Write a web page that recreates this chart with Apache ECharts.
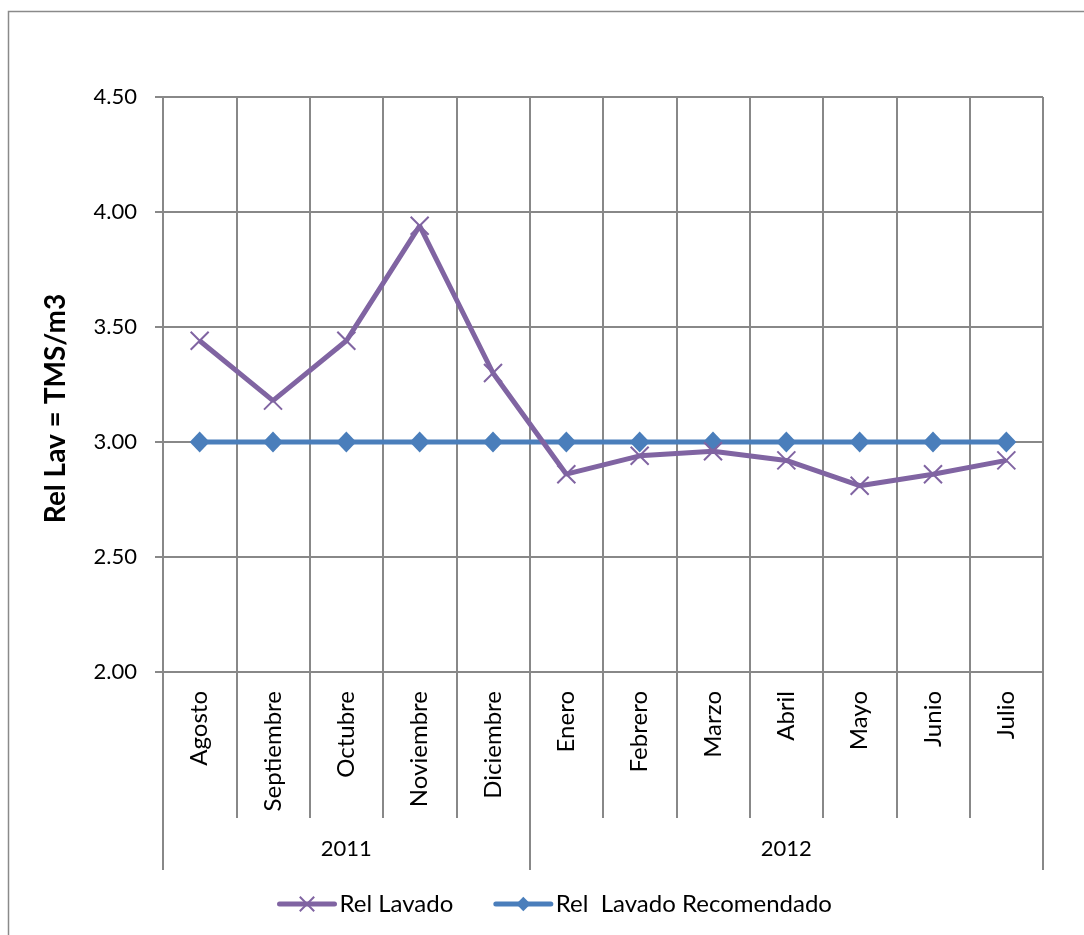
<!DOCTYPE html>
<html>
<head>
<meta charset="utf-8">
<script src="https://cdn.jsdelivr.net/npm/echarts@6/dist/echarts.min.js"></script>
<style>
html,body{margin:0;padding:0;background:#fff;}
#chart{width:1084px;height:935px;}
</style>
</head>
<body>
<div id="chart"></div>
<script>
const months = ['Agosto','Septiembre','Octubre','Noviembre','Diciembre','Enero','Febrero','Marzo','Abril','Mayo','Junio','Julio'];
const monthYears = ['2011','2011','2011','2011','2011','2012','2012','2012','2012','2012','2012','2012'];
const relLavado = [3.44, 3.18, 3.44, 3.94, 3.30, 2.86, 2.94, 2.96, 2.92, 2.81, 2.86, 2.92];
const relRecomendado = [3.00, 3.00, 3.00, 3.00, 3.00, 3.00, 3.00, 3.00, 3.00, 3.00, 3.00, 3.00];
const yTicks = { min: 2.0, max: 4.5, interval: 0.5 };
const seriesNames = ['Rel Lavado', 'Rel  Lavado Recomendado'];
const yAxisName = 'Rel Lav = TMS/m3';

// year group labels: place the year text at the middle category of each group
const groupStarts = [];
monthYears.forEach((y, i) => { if (i === 0 || y !== monthYears[i - 1]) groupStarts.push(i); });
const yearLabels = months.map(() => '');
groupStarts.forEach((s, gi) => {
  const e = gi + 1 < groupStarts.length ? groupStarts[gi + 1] - 1 : months.length - 1;
  yearLabels[Math.floor((s + e) / 2)] = monthYears[s];
});

const gridColor = '#888888';
const fontFam = 'Lato, "Liberation Sans", sans-serif';

const chart = echarts.init(document.getElementById('chart'), null, { renderer: 'canvas' });
chart.setOption({
  animation: false,
  backgroundColor: '#ffffff',
  graphic: [{
    type: 'rect',
    shape: { x: 8.5, y: 11.5, width: 1200, height: 1000 },
    style: { fill: 'none', stroke: '#8a8a8a', lineWidth: 1.5 },
    silent: true, z: -10
  }],
  grid: { left: 163, right: 41, top: 97, bottom: 263, containLabel: false },
  legend: {
    top: 892,
    left: 277,
    padding: 0,
    itemWidth: 55,
    itemHeight: 18,
    itemGap: 40,
    lineStyle: { width: 5, cap: 'round' },
    textStyle: { fontSize: 24, color: '#000', fontFamily: fontFam },
    data: seriesNames
  },
  xAxis: [{
    type: 'category',
    data: months,
    boundaryGap: true,
    axisLine: { show: true, lineStyle: { color: gridColor, width: 2 } },
    axisTick: { show: true, interval: 0, length: 146, lineStyle: { color: gridColor, width: 2 } },
    splitLine: { show: true, interval: 0, lineStyle: { color: gridColor, width: 2 } },
    axisLabel: { interval: 0, rotate: 90, margin: 19, fontSize: 24, color: '#000', fontFamily: fontFam }
  }, {
    type: 'category',
    data: yearLabels,
    position: 'bottom',
    boundaryGap: true,
    axisLine: { show: false },
    axisTick: {
      show: true, length: 198,
      interval: (idx) => groupStarts.indexOf(idx) >= 0,
      lineStyle: { color: gridColor, width: 2 }
    },
    splitLine: { show: false },
    axisLabel: { interval: 0, margin: 166, fontSize: 22, color: '#000', fontFamily: fontFam }
  }],
  yAxis: {
    type: 'value',
    min: yTicks.min, max: yTicks.max, interval: yTicks.interval,
    name: yAxisName,
    nameLocation: 'middle',
    nameGap: 93,
    nameTextStyle: { fontSize: 28, fontWeight: 'bold', color: '#000', fontFamily: fontFam, padding: [0, 48, 0, 0] },
    axisLine: { show: true, lineStyle: { color: gridColor, width: 2 } },
    axisTick: { show: true, length: 8, lineStyle: { color: gridColor, width: 2 } },
    splitLine: { show: true, lineStyle: { color: gridColor, width: 2 } },
    axisLabel: { margin: 26, fontSize: 22, color: '#000', fontFamily: fontFam, formatter: v => v.toFixed(2) }
  },
  series: [{
    name: seriesNames[0],
    type: 'line',
    data: relLavado,
    symbol: 'path://M0,0 L10,10 M10,0 L0,10',
    symbolSize: 18,
    lineStyle: { color: '#8064A2', width: 5 },
    itemStyle: { color: 'rgba(0,0,0,0)', borderColor: '#8064A2', borderWidth: 2 },
    z: 3
  }, {
    name: seriesNames[1],
    type: 'line',
    data: relRecomendado,
    symbol: 'diamond',
    symbolSize: [20, 21],
    lineStyle: { color: '#4A7EBB', width: 5 },
    itemStyle: { color: '#4A7EBB' },
    z: 2
  }]
});
</script>
</body>
</html>
